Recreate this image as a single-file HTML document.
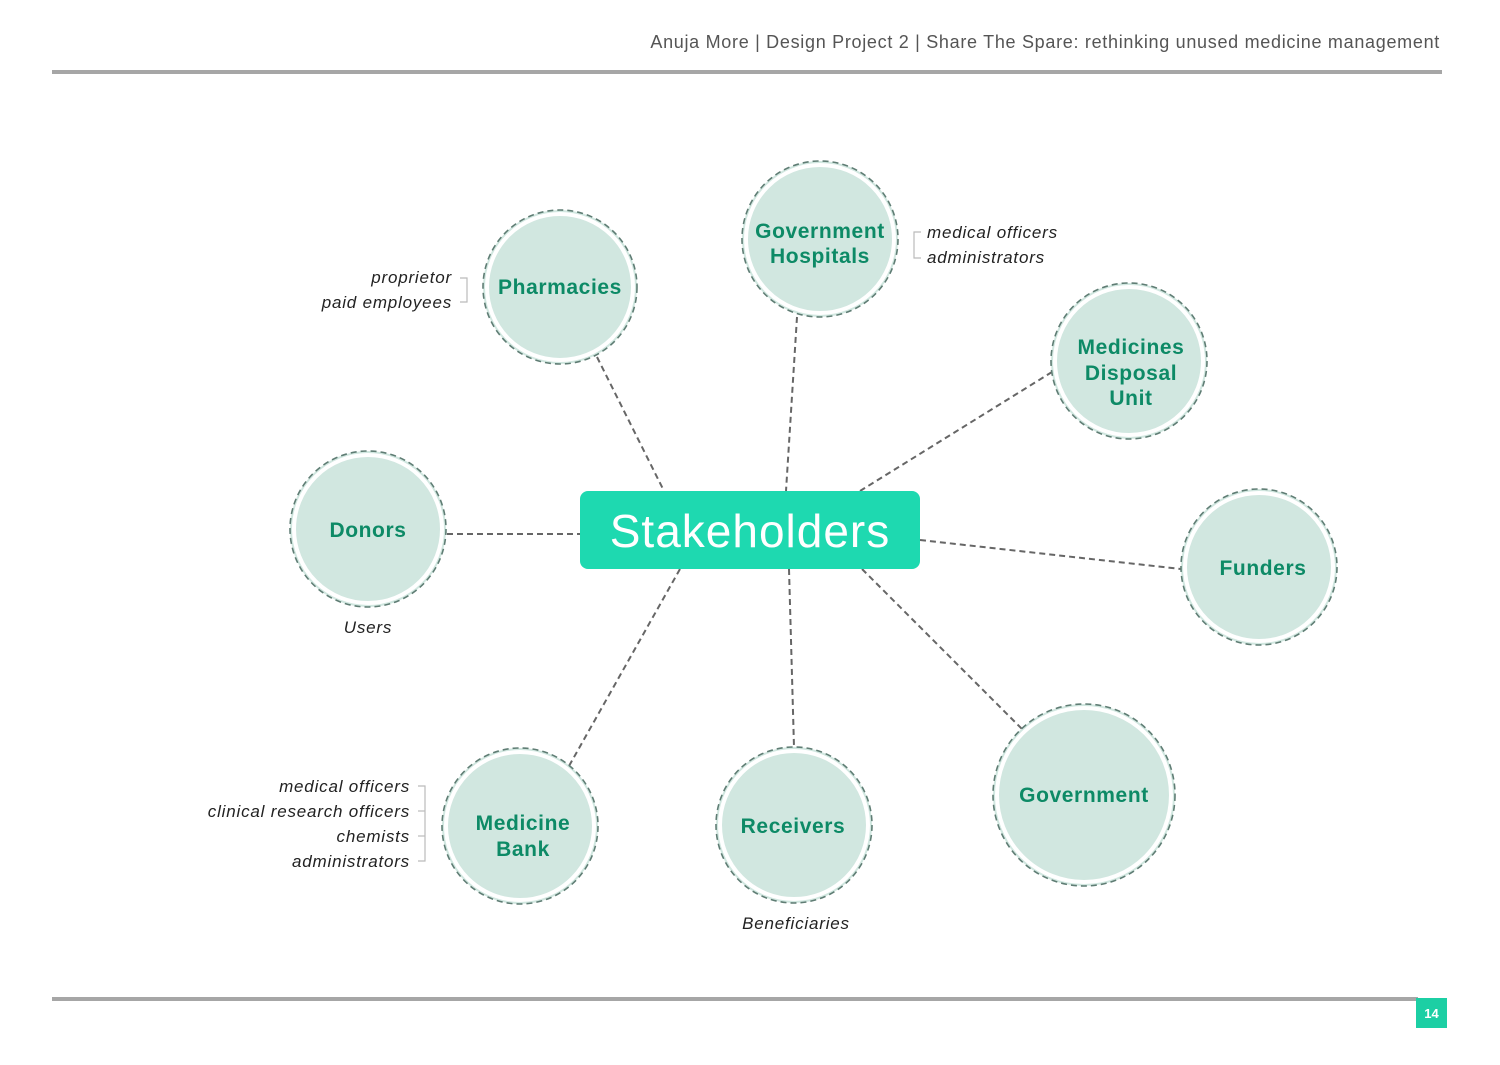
<!DOCTYPE html>
<html><head><style>
body{margin:0;background:#fff;}
svg text{font-family:"Liberation Sans",sans-serif;}
</style></head><body>
<svg width="1500" height="1060" xmlns="http://www.w3.org/2000/svg">
<text x="1440" y="48" text-anchor="end" font-size="18" fill="#555" letter-spacing="0.7">Anuja More | Design Project 2 | Share The Spare: rethinking unused medicine management</text>
<rect x="52" y="70" width="1390" height="4" fill="#a6a6a6"/>
<rect x="52" y="997" width="1366" height="4" fill="#a6a6a6"/>
<rect x="1416" y="998" width="31" height="30" fill="#1ccfa4"/>
<text x="1431.5" y="1018" text-anchor="middle" font-size="13" fill="#fff" font-weight="bold">14</text>
<g stroke="#666" stroke-width="2" stroke-dasharray="6,4" fill="none">
<line x1="597" y1="357" x2="664" y2="491"/>
<line x1="797" y1="317" x2="786" y2="491"/>
<line x1="1052" y1="372" x2="860" y2="491"/>
<line x1="447" y1="534" x2="580" y2="534"/>
<line x1="920" y1="540" x2="1181" y2="569"/>
<line x1="862" y1="569" x2="1022" y2="729"/>
<line x1="789" y1="569" x2="794" y2="747"/>
<line x1="680" y1="569" x2="569" y2="766"/>
</g>
<rect x="580" y="491" width="340" height="78" rx="8" fill="#1ed9b0"/>
<text x="750" y="547" text-anchor="middle" font-size="46" fill="#fff" letter-spacing="1">Stakeholders</text>
<g fill="#d1e7e0" stroke="#5f7d74" stroke-width="1.6" stroke-dasharray="6,4">
<circle cx="560" cy="287" r="77"/><circle cx="820" cy="239" r="78"/>
<circle cx="1129" cy="361" r="78"/><circle cx="368" cy="529" r="78"/>
<circle cx="1259" cy="567" r="78"/><circle cx="1084" cy="795" r="91"/>
<circle cx="794" cy="825" r="78"/><circle cx="520" cy="826" r="78"/>
</g>
<g fill="none" stroke="#fff" stroke-width="4">
<circle cx="560" cy="287" r="73"/><circle cx="820" cy="239" r="74"/>
<circle cx="1129" cy="361" r="74"/><circle cx="368" cy="529" r="74"/>
<circle cx="1259" cy="567" r="74"/><circle cx="1084" cy="795" r="87"/>
<circle cx="794" cy="825" r="74"/><circle cx="520" cy="826" r="74"/>
</g>
<g font-size="21" fill="#0d8a66" text-anchor="middle" font-weight="bold" letter-spacing="0.6">
<text x="560" y="294">Pharmacies</text>
<text x="820" y="238">Government</text><text x="820" y="263">Hospitals</text>
<text x="1131" y="354">Medicines</text><text x="1131" y="380">Disposal</text><text x="1131" y="405">Unit</text>
<text x="368" y="537">Donors</text>
<text x="1263" y="575">Funders</text>
<text x="1084" y="802">Government</text>
<text x="793" y="833">Receivers</text>
<text x="523" y="830">Medicine</text><text x="523" y="856">Bank</text>
</g>
<g font-size="17" fill="#222" font-style="italic" letter-spacing="0.8">
<text x="452" y="283" text-anchor="end">proprietor</text>
<text x="452" y="308" text-anchor="end">paid employees</text>
<text x="927" y="238">medical officers</text>
<text x="927" y="263">administrators</text>
<text x="368" y="633" text-anchor="middle">Users</text>
<text x="796" y="929" text-anchor="middle">Beneficiaries</text>
<text x="410" y="792" text-anchor="end">medical officers</text>
<text x="410" y="817" text-anchor="end">clinical research officers</text>
<text x="410" y="842" text-anchor="end">chemists</text>
<text x="410" y="867" text-anchor="end">administrators</text>
</g>
<g fill="none" stroke="#bbb" stroke-width="1.2">
<polyline points="460,278 467,278 467,302 460,302"/>
<polyline points="921,232 914,232 914,258 921,258"/>
<polyline points="418,786 425,786 425,861 418,861"/>
<line x1="418" y1="811" x2="425" y2="811"/><line x1="418" y1="836" x2="425" y2="836"/>
</g>
</svg>
</body></html>
